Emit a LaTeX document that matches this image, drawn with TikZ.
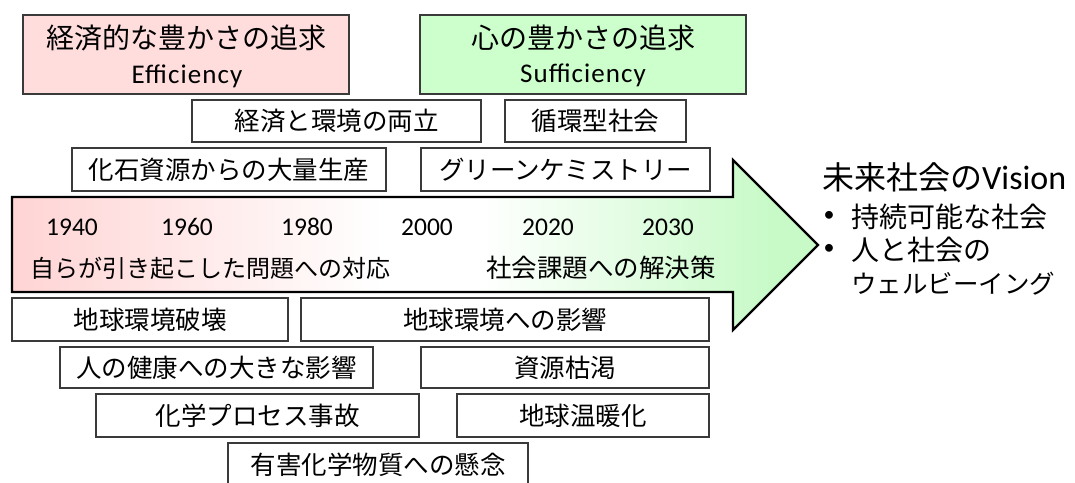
\documentclass[tikz,border=0pt]{standalone}
\usepackage{fontspec}
\setmainfont{Carlito}
\newfontfamily\jp{Noto Sans CJK JP}
\newfontfamily\latwide[LetterSpace=4]{Carlito}
\usetikzlibrary{shadings}
\definecolor{pinkfill}{HTML}{FFDDDD}
\definecolor{greenfill}{HTML}{CCFFCC}
\definecolor{arrowpink}{HTML}{FFD4D4}
\definecolor{arrowgreen}{HTML}{C8FAC8}
\definecolor{boxline}{HTML}{3A3A3A}
\pgfdeclarehorizontalshading{arrowshade}{100bp}{color(0bp)=(arrowpink); color(25bp)=(arrowpink); color(48bp)=(white); color(54bp)=(white); color(72bp)=(arrowgreen); color(100bp)=(arrowgreen)}
\begin{document}
\begin{tikzpicture}[x=1pt,y=-1pt,
  box/.style={draw=boxline, line width=1.6pt, fill=white, inner sep=0pt, outer sep=0pt,
    font={\jp\fontsize{25.5}{28}\selectfont}},
  titlebox/.style={draw=boxline, line width=1.6pt, inner sep=0pt, outer sep=0pt},
  titlejp/.style={inner sep=0pt, font={\jp\fontsize{28}{32}\selectfont}},
  titlelat/.style={inner sep=0pt, anchor=base, font={\latwide\fontsize{27}{30}\selectfont}},
  year/.style={inner sep=0pt, anchor=base, font={\fontsize{25.5}{30}\selectfont}},
  arrowtext/.style={inner sep=0pt, font={\jp\fontsize{24}{28}\selectfont}},
  vision/.style={inner sep=0pt, anchor=west, font={\jp\fontsize{32}{36}\selectfont}},
  bullet/.style={inner sep=0pt, font={\fontsize{22}{26}\selectfont}},
  visionitem/.style={inner sep=0pt, anchor=west, font={\jp\fontsize{28}{32}\selectfont}}
]
\useasboundingbox (0,0) rectangle (1075,482);
\fill[white] (0,0) rectangle (1075,482);

% title boxes
\node[titlebox, fill=pinkfill, minimum width=326pt, minimum height=79pt] (effbox) at (186,54.5) {};
\node[titlejp] (efftitle) at (186,38) {経済的な豊かさの追求};
\node[titlelat] (eff) at (187,83) {Efficiency};

\node[titlebox, fill=greenfill, minimum width=326pt, minimum height=79pt] (sufbox) at (583,54.5) {};
\node[titlejp] (suftitle) at (583,38) {心の豊かさの追求};
\node[titlelat] (suf) at (583,82) {Sufficiency};

% upper boxes
\node[box, minimum width=289pt, minimum height=42pt] (ryoritsu) at (336.5,121) {経済と環境の両立};
\node[box, minimum width=181pt, minimum height=42pt] (junkan) at (595.5,121) {循環型社会};
\node[box, minimum width=314pt, minimum height=43pt] (kaseki) at (229,169.5) {化石資源からの大量生産};
\node[box, minimum width=289pt, minimum height=43pt] (green) at (565.5,169.5) {グリーンケミストリー};

% big arrow
\draw[line width=2.2pt, draw=black, shading=arrowshade]
  (12,197) -- (733,197) -- (733,160) -- (818,245) -- (733,330) -- (733,292) -- (12,292) -- cycle;

\node[year] (y1940) at (72,235) {1940};
\node[year] (y1960) at (187,235) {1960};
\node[year] (y1980) at (307,235) {1980};
\node[year] (y2000) at (427,235) {2000};
\node[year] (y2020) at (548,235) {2020};
\node[year] (y2030) at (668,235) {2030};
\node[arrowtext] (taiou) at (210,268) {自らが引き起こした問題への対応};
\node[arrowtext, font={\jp\fontsize{25.5}{28}\selectfont}] (kaiketsu) at (601,268) {社会課題への解決策};

% lower boxes
\node[box, minimum width=276pt, minimum height=43pt] (hakai) at (150,319.5) {地球環境破壊};
\node[box, minimum width=408pt, minimum height=43pt] (eikyo) at (505,319.5) {地球環境への影響};
\node[box, minimum width=313pt, minimum height=41pt] (kenko) at (216.5,367.5) {人の健康への大きな影響};
\node[box, minimum width=288pt, minimum height=41pt] (kokatsu) at (565,367.5) {資源枯渇};
\node[box, minimum width=323pt, minimum height=43pt] (jiko) at (257.5,415.5) {化学プロセス事故};
\node[box, minimum width=252pt, minimum height=43pt] (ondanka) at (583,415.5) {地球温暖化};
\node[box, minimum width=300pt, minimum height=43pt] (kenen) at (378,464.5) {有害化学物質への懸念};

% vision text
\node[vision] (visiontitle) at (822,177) {未来社会の{\rmfamily\fontsize{34}{36}\selectfont Vision}};
\node[bullet] (b1) at (829,216) {•};
\node[visionitem] (v1) at (851,217) {持続可能な社会};
\node[bullet] (b2) at (829,249) {•};
\node[visionitem] (v2) at (851,250) {人と社会の};
\node[visionitem, font={\jp\fontsize{25.5}{30}\selectfont}] (v3) at (851,284) {ウェルビーイング};
\end{tikzpicture}
\end{document}
